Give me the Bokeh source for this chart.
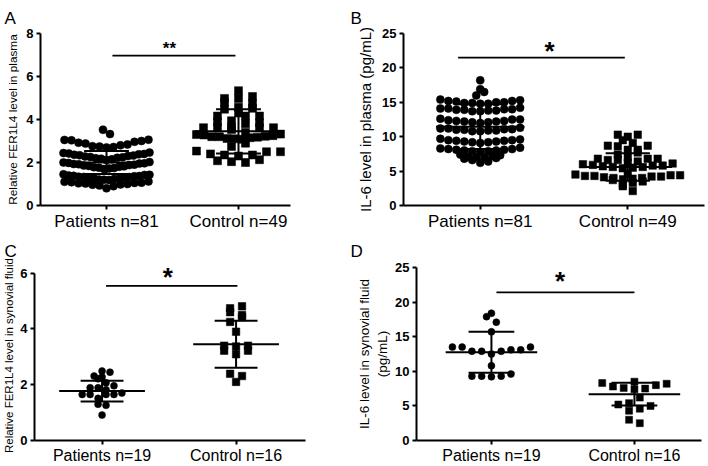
import numpy as np
from bokeh.plotting import figure
from bokeh.models import Range1d, FixedTicker, Label
from bokeh.layouts import row, column
from bokeh.embed import file_html
from bokeh.resources import INLINE

FONT = "Liberation Sans"

# ---------------- data ----------------
panel_letters_top = ["A", "B"]
panel_letters_bottom = ["C", "D"]

groups_A = ["Patients n=81", "Control n=49"]
A_patients = [3.52, 3.32,
              3.06, 3.05, 3.03, 3.00, 2.96, 2.92, 2.88, 2.84, 2.80, 2.76, 2.74, 2.72, 2.70,
              2.46, 2.44, 2.42, 2.40, 2.38, 2.36, 2.34, 2.32, 2.30, 2.28, 2.26, 2.24, 2.22, 2.20, 2.18, 2.15, 2.12,
              2.02, 2.00, 1.98, 1.96, 1.95, 1.93, 1.92, 1.90, 1.88, 1.86, 1.84, 1.82, 1.80, 1.78, 1.76, 1.74, 1.72, 1.70,
              1.45, 1.43, 1.42, 1.40, 1.38, 1.37, 1.36, 1.34, 1.33, 1.32, 1.30, 1.28, 1.27, 1.25, 1.23, 1.21, 1.20, 1.19,
              1.12, 1.10, 1.08, 1.06, 1.05, 1.03, 1.02, 1.00, 0.98, 0.96, 0.93, 0.90, 0.80]
A_control = [5.34, 5.07, 4.98, 4.98, 4.80, 4.75, 4.57, 4.52, 4.48, 4.30, 4.16, 4.16, 4.16,
             3.94, 3.89, 3.85, 3.80, 3.66, 3.62, 3.62, 3.62, 3.62, 3.53, 3.40,
             3.32, 3.30, 3.28, 3.25, 3.22, 3.20, 3.20, 3.18, 3.15, 3.12, 3.10, 3.08,
             2.90, 2.75,
             2.53, 2.50, 2.50, 2.40, 2.35, 2.35, 2.30, 2.13, 2.08, 2.04, 2.00]
A_mean = [2.0, 3.45]
A_sd = [0.53, 1.03]

groups_B = ["Patients n=81", "Control n=49"]
B_patients = [18.2, 16.9, 16.5, 16.0,
              15.4, 15.3, 15.2, 15.1, 15.0, 14.9, 14.8, 14.8, 14.9, 15.0, 15.2,
              14.2, 14.1, 14.0, 13.9, 13.8, 13.7, 13.7, 13.8, 13.9, 14.0, 14.1,
              12.6, 12.5, 12.4, 12.3, 12.2, 12.1, 12.0, 12.1, 12.2, 12.3, 12.5,
              11.3, 11.2, 11.1, 11.0, 10.9, 10.8, 10.8, 10.9, 11.0, 11.1, 11.2,
              9.7, 9.6, 9.5, 9.4, 9.3, 9.2, 9.1, 9.2, 9.3, 9.4, 9.5,
              8.4, 8.3, 8.2, 8.1, 8.0, 7.9, 7.8, 7.9, 8.0, 8.1, 8.2,
              7.4, 7.3, 7.2, 7.1, 7.0, 6.8, 6.6, 6.4, 6.2, 6.9, 7.0]
B_control = [10.3, 10.3, 10.0, 9.5, 9.1, 8.7, 8.7, 8.6, 8.1, 8.1,
             7.7, 7.4, 7.0, 6.8, 6.8, 6.6, 6.6, 6.8, 6.4,
             6.2, 6.1, 6.0, 5.9, 5.8, 5.8, 5.7, 5.6, 5.6, 5.5, 5.4,
             4.6, 4.5, 4.4, 4.4, 4.3, 4.3, 4.2, 4.2, 4.1, 4.0, 4.0, 3.9, 3.8, 3.7,
             3.5, 3.3, 3.0, 2.8, 2.1]
B_mean = [11.45, 5.6]
B_sd = [3.25, 2.0]

groups_C = ["Patients n=19", "Control n=16"]
C_patients = [2.49, 2.45, 2.31, 2.28, 2.21, 2.07, 1.89, 1.82, 1.89, 1.96,
              1.65, 1.65, 1.65, 1.65, 1.70, 1.51, 1.26, 1.30, 0.91]
C_control = [4.81, 4.74, 4.60, 4.50, 4.42, 4.25, 3.90, 3.37, 3.40, 3.22,
             3.40, 3.22, 3.09, 2.39, 2.31, 2.10]
C_mean = [1.77, 3.45]
C_sd = [0.37, 0.84]

groups_D = ["Patients n=19", "Control n=16"]
D_patients = [18.4, 17.9, 17.1, 15.7, 13.1, 12.9, 12.9, 12.5, 12.9, 13.1,
              13.5, 13.5, 13.5, 10.8, 9.3, 9.2, 9.3, 9.3, 9.6]
D_control = [8.5, 8.3, 8.2, 8.0, 7.8, 7.6, 7.5, 7.4, 6.2, 5.4, 5.2, 5.0, 4.6, 4.3, 3.0, 2.5]
D_mean = [12.75, 6.7]
D_sd = [2.95, 1.65]

# significance brackets: (x0, x1, y, star x, star text)
sig_A = (0.045, 0.977, 6.97, 0.477, "**")
sig_B = (-0.15, 0.98, 21.5, 0.47, "*")
sig_C = (0.03, 1.01, 5.54, 0.49, "*")
sig_D = (0.035, 1.0, 21.4, 0.48, "*")


def row_offsets(vals, h, xpx, s_max, w_max):
    """Scatter-dot layout: cluster sorted values into rows of height h,
    spread each row horizontally, lowest values nearest the centre."""
    vals = np.asarray(vals, float)
    order = np.argsort(vals, kind="stable")
    rows, cur, start = [], [], None
    for i in order:
        v = vals[i]
        if start is None or v > start + h + 1e-9:
            if cur:
                rows.append(cur)
            cur, start = [i], v
        else:
            cur.append(i)
    rows.append(cur)
    offs = np.zeros(len(vals))
    flip = 1
    for r in rows:
        n = len(r)
        s = s_max if n < 2 else min(s_max, w_max / (n - 1))
        slots = []
        if n % 2 == 1:
            slots.append(0.0)
            ks = [k for k in range(1, (n - 1) // 2 + 1)]
        else:
            ks = [k + 0.5 for k in range(n // 2)]
        for k in ks:
            a = k * s
            slots += [flip * a, -flip * a]
            flip = -flip
        for idx, c in zip(r, slots):
            offs[idx] = c / xpx
    return offs


def letter_strip(letters, xs, width=708, height=24, baseline=18):
    s = figure(width=width, height=height, output_backend="svg", toolbar_location=None,
               x_range=Range1d(0, width), y_range=Range1d(0, height),
               x_axis_location=None, y_axis_location=None, min_border=0)
    s.xgrid.visible = False
    s.ygrid.visible = False
    s.outline_line_color = None
    s.background_fill_color = "white"
    s.border_fill_color = "white"
    for t, x in zip(letters, xs):
        s.add_layout(Label(x=x, y=height - baseline, text=t, text_font=FONT,
                           text_font_size="17px", text_baseline="alphabetic",
                           text_color="black"))
    return s


def panel(groups, pts, mean, sd, sig, ylab, yticks, ymax, ypad,
          mbl, mbr, mbt, mbb, xr, ylab_size, msize, lay, half_mean, half_cap,
          star_size, star_y_shift, xlab_size, ylab_standoff,
          width=354, height=209):
    p = figure(width=width, height=height, output_backend="svg", toolbar_location=None,
               x_range=Range1d(*xr), y_range=Range1d(0, ymax + ypad),
               min_border_left=mbl, min_border_right=mbr,
               min_border_top=mbt, min_border_bottom=mbb)
    p.xgrid.visible = False
    p.ygrid.visible = False
    p.outline_line_color = None
    p.background_fill_color = "white"
    p.border_fill_color = "white"
    for ax in (p.xaxis[0], p.yaxis[0]):
        ax.axis_line_width = 2
        ax.axis_line_color = "black"
        ax.major_tick_line_width = 2
        ax.major_tick_line_color = "black"
        ax.major_tick_out = 4
        ax.major_tick_in = 0
        ax.minor_tick_line_color = None
        ax.major_label_standoff = 3
        ax.major_label_text_font = FONT
        ax.major_label_text_color = "black"
    p.xaxis[0].major_label_standoff = 2
    p.yaxis[0].bounds = (0, ymax)
    p.yaxis[0].ticker = FixedTicker(ticks=yticks)
    p.yaxis[0].major_label_text_font_size = "13px"
    p.yaxis[0].major_label_text_font_style = "bold"
    p.yaxis[0].axis_label = ylab
    p.yaxis[0].axis_label_text_font = FONT
    p.yaxis[0].axis_label_text_font_size = ylab_size
    p.yaxis[0].axis_label_text_font_style = "normal"
    p.yaxis[0].axis_label_text_color = "black"
    p.yaxis[0].axis_label_standoff = ylab_standoff
    p.xaxis[0].ticker = FixedTicker(ticks=[0, 1])
    p.xaxis[0].major_label_overrides = {0: groups[0], 1: groups[1]}
    p.xaxis[0].major_label_text_font_size = xlab_size

    frame_w = width - mbl - mbr
    xpx = frame_w / (xr[1] - xr[0])
    markers = ["circle", "square"]
    for k in range(2):
        vals = np.asarray(pts[k], float)
        h, s_max, w_max = lay[k]
        offs = row_offsets(vals, h, xpx, s_max, w_max)
        p.scatter(k + offs, vals, marker=markers[k], size=msize[k],
                  fill_color="black", line_color="black", line_width=0.5)
        m, s = mean[k], sd[k]
        p.segment(x0=[k], y0=[m - s], x1=[k], y1=[m + s], line_color="black", line_width=2)
        p.segment(x0=[k - half_mean], y0=[m], x1=[k + half_mean], y1=[m],
                  line_color="black", line_width=2)
        p.segment(x0=[k - half_cap, k - half_cap], y0=[m - s, m + s],
                  x1=[k + half_cap, k + half_cap], y1=[m - s, m + s],
                  line_color="black", line_width=2)
    x0, x1, yv, sx, star = sig
    p.segment(x0=[x0], y0=[yv], x1=[x1], y1=[yv], line_color="black", line_width=1.6)
    p.add_layout(Label(x=sx, y=yv + star_y_shift, text=star, text_align="center",
                       text_baseline="alphabetic", text_font=FONT, text_font_style="bold",
                       text_font_size=star_size, text_color="black"))
    return p


pA = panel(groups_A, [A_patients, A_control], A_mean, A_sd, sig_A,
           "Relative FER1L4 level in plasma", [0, 2, 4, 6, 8], 8, 0.0,
           40, 64, 6, 26, (-0.5, 1.394), "11.8px", [8, 8],
           [(0.37, 7, 86), (0.25, 14, 84)], 0.33, 0.17,
           "17px", 0.32, "17px", 3)
pB = panel(groups_B, [B_patients, B_control], B_mean, B_sd, sig_B,
           "IL-6 level in plasma (pg/mL)", [0, 5, 10, 15, 20, 25], 25, 0.0,
           48, 4, 9, 23, (-0.52, 1.52), "15px", [8, 7.5],
           [(0.7, 8, 88), (0.7, 10, 105)], 0.30, 0.15,
           "26px", 1.0, "17px", 5)
pC = panel(groups_C, [C_patients, C_control], C_mean, C_sd, sig_C,
           "Relative FER1L4 level in  synovial fluid", [0, 2, 4, 6], 6, 0.2,
           32, 49, 8, 24, (-0.504, 1.518), "11.5px", [7, 7.5],
           [(0.2, 8, 80), (0.2, 12, 80)], 0.32, 0.16,
           "26px", 0.32, "16px", 2)
pD = panel(groups_D, [D_patients, D_control], D_mean, D_sd, sig_D,
           "IL-6 level in synovial fluid\n(pg/mL)", [0, 5, 10, 15, 20, 25], 25, 0.0,
           55, 7, 10, 24, (-0.524, 1.469), "13.5px", [7, 7],
           [(1.1, 10, 80), (0.9, 11, 90)], 0.32, 0.16,
           "26px", 1.6, "16px", 2)

stripTop = letter_strip(panel_letters_top, [4, 350])
stripMid = letter_strip(panel_letters_bottom, [4, 350])

layout = column(stripTop, row(pA, pB), stripMid, row(pC, pD))
open("out.html", "w").write(file_html(layout, INLINE))
